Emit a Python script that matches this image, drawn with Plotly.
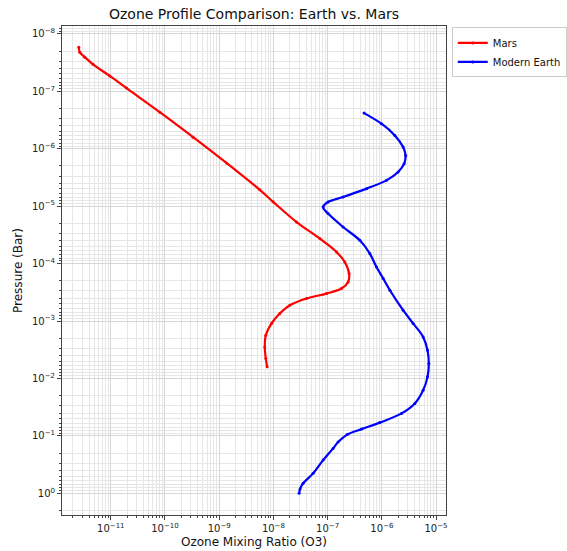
import plotly.graph_objects as go

# Mars ozone profile (mixing ratio, pressure in bar)
mars_o3 = [2.57e-12, 2.68e-12, 3.31e-12, 4.71e-12, 9.59e-12, 1.95e-11, 8.02e-11, 3.30e-10,
           1.36e-9, 5.61e-9, 9.87e-9, 2.67e-8, 7.18e-8, 1.46e-7, 2.07e-7, 2.49e-7,
           2.39e-7, 1.80e-7, 9.55e-8, 4.08e-8, 2.01e-8, 1.31e-8, 9.23e-9, 7.24e-9,
           6.94e-9, 7.24e-9, 7.66e-9]
mars_p = [1.71e-8, 2.09e-8, 2.55e-8, 3.40e-8, 5.42e-8, 8.80e-8, 2.31e-7, 6.29e-7,
          1.77e-6, 5.21e-6, 8.41e-6, 1.89e-5, 3.67e-5, 6.28e-5, 9.38e-5, 1.49e-4,
          2.09e-4, 2.72e-4, 3.33e-4, 4.06e-4, 5.31e-4, 7.41e-4, 1.10e-3, 1.77e-3,
          2.82e-3, 4.49e-3, 6.28e-3]

# Modern Earth ozone profile
earth_o3 = [4.71e-7, 9.86e-7, 1.74e-6, 2.47e-6, 2.74e-6, 2.58e-6, 2.00e-6, 1.22e-6,
            5.22e-7, 1.93e-7, 1.02e-7, 8.26e-8, 1.02e-7, 1.93e-7, 3.93e-7, 6.01e-7,
            7.98e-7, 1.06e-6, 1.41e-6, 2.47e-6, 3.78e-6, 5.78e-6, 6.97e-6, 7.36e-6,
            6.97e-6, 5.78e-6, 4.06e-6, 2.31e-6, 9.18e-7, 4.22e-7, 2.30e-7, 1.56e-7,
            1.26e-7, 8.26e-8, 5.40e-8, 3.53e-8, 3.10e-8, 2.98e-8]
earth_p = [2.40e-7, 3.67e-7, 5.87e-7, 9.38e-7, 1.31e-6, 1.82e-6, 2.55e-6, 3.56e-6,
           4.96e-6, 6.95e-6, 8.49e-6, 1.04e-5, 1.35e-5, 2.31e-5, 3.94e-5, 6.70e-5,
           1.15e-4, 1.82e-4, 2.91e-4, 6.49e-4, 1.10e-3, 1.89e-3, 3.22e-3, 5.48e-3,
           9.38e-3, 1.60e-2, 2.72e-2, 4.06e-2, 5.87e-2, 7.62e-2, 9.50e-2, 0.128,
           0.165, 0.264, 0.449, 0.670, 0.842, 1.0]

# Tick labels
x_tickvals = [1e-11, 1e-10, 1e-9, 1e-8, 1e-7, 1e-6, 1e-5]
x_ticktext = ["10<sup>\u221211</sup>", "10<sup>\u221210</sup>", "10<sup>\u22129</sup>",
              "10<sup>\u22128</sup>", "10<sup>\u22127</sup>", "10<sup>\u22126</sup>",
              "10<sup>\u22125</sup>"]
y_tickvals = [1e-8, 1e-7, 1e-6, 1e-5, 1e-4, 1e-3, 1e-2, 1e-1, 1]
y_ticktext = ["10<sup>\u22128</sup>", "10<sup>\u22127</sup>", "10<sup>\u22126</sup>",
              "10<sup>\u22125</sup>", "10<sup>\u22124</sup>", "10<sup>\u22123</sup>",
              "10<sup>\u22122</sup>", "10<sup>\u22121</sup>", "10<sup>0</sup>"]

# minor tick positions (2..9 within each decade)
x_minor = [m * 10.0 ** e for e in range(-12, -4) for m in range(2, 10)]
y_minor = [m * 10.0 ** e for e in range(-9, 1) for m in range(2, 10)]

FONT = "DejaVu Sans"

fig = go.Figure()
fig.add_trace(go.Scatter(x=mars_o3, y=mars_p, name="Mars", mode="lines+markers",
                         line=dict(color="red", width=2.2, shape="spline", smoothing=1.0),
                         marker=dict(size=3, color="red")))
fig.add_trace(go.Scatter(x=earth_o3, y=earth_p, name="Modern Earth", mode="lines+markers",
                         line=dict(color="blue", width=2.2, shape="spline", smoothing=1.0),
                         marker=dict(size=3, color="blue")))

axis_common = dict(
    type="log", tickmode="array",
    showline=True, mirror=True, linecolor="#444", linewidth=1,
    ticks="outside", ticklen=4, tickcolor="#444",
    showgrid=True, gridcolor="#d6d6d6", gridwidth=1,
    tickfont=dict(family=FONT, size=10, color="#222"),
    zeroline=False, automargin=False,
)
minor_common = dict(tickmode="array", ticks="outside", ticklen=2, tickcolor="#444",
                    showgrid=True, gridcolor="#e6e6e6", gridwidth=1)

fig.update_layout(
    width=567, height=551,
    margin=dict(l=62, r=121, t=26, b=36, autoexpand=False),
    paper_bgcolor="white", plot_bgcolor="white",
    font=dict(family=FONT, color="#222"),
    title=dict(text="Ozone Profile Comparison: Earth vs. Mars", x=(62 + 446) / 2 / 567,
               xanchor="center", y=1 - 14 / 551, yanchor="middle",
               font=dict(family=FONT, size=14, color="#111")),
    xaxis=dict(axis_common, range=[-11.90, -4.816],
               tickvals=x_tickvals, ticktext=x_ticktext,
               minor=dict(minor_common, tickvals=x_minor),
               title=dict(text="Ozone Mixing Ratio (O3)", standoff=4,
                          font=dict(family=FONT, size=12, color="#111"))),
    yaxis=dict(axis_common, range=[0.377, -8.136],
               tickvals=y_tickvals, ticktext=y_ticktext,
               minor=dict(minor_common, tickvals=y_minor),
               title=dict(text="Pressure (Bar)", standoff=6,
                          font=dict(family=FONT, size=12, color="#111"))),
    legend=dict(x=1.015, y=0.997, xanchor="left", yanchor="top",
                bordercolor="#cccccc", borderwidth=1, bgcolor="white",
                font=dict(family=FONT, size=10, color="#111"),
                itemwidth=30, tracegroupgap=0),
    showlegend=True,
)

fig.write_html("out.html", config={"displayModeBar": False},
               post_script="document.body.style.margin='0';document.body.style.padding='0';")
